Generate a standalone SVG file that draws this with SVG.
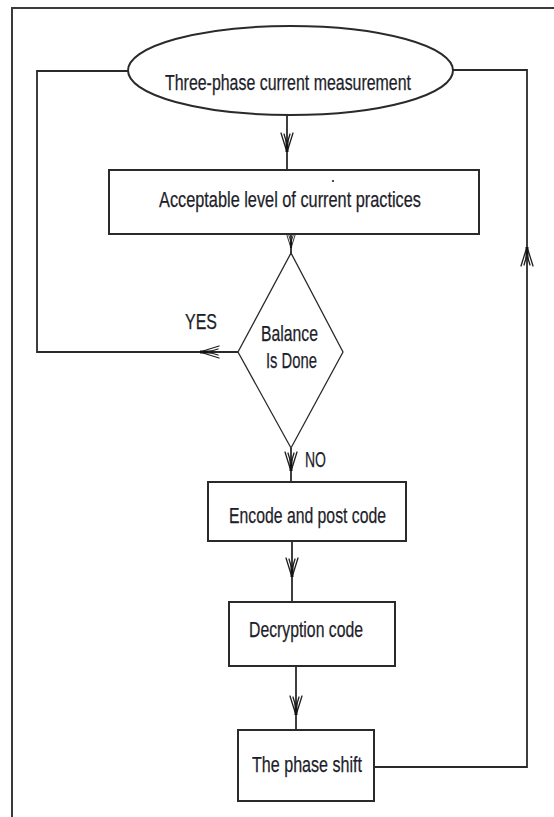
<svg xmlns="http://www.w3.org/2000/svg" xmlns:xlink="http://www.w3.org/1999/xlink" width="554" height="817" viewBox="0 0 554 817">
  <style>
    .frame { fill: none; stroke: #3a3a3a; stroke-width: 2; }
    .shape { fill: #ffffff; stroke: #2a2a2a; stroke-width: 2; }
    .thin  { fill: #ffffff; stroke: #2a2a2a; stroke-width: 1.3; }
    .wire  { fill: none; stroke: #2a2a2a; stroke-width: 1.8; }
    .head  { fill: none; stroke: #1e1e1e; stroke-width: 1.3; stroke-linecap: round; }
    .shaft { fill: none; stroke: #111111; stroke-width: 3; }
    text { font-family: "Liberation Sans", Arial, sans-serif; font-size: 21.5px; fill: #1d1d2a; stroke: #1d1d2a; stroke-width: 0.25; }
  </style>
  <defs>
    <!-- sketchy open arrowhead, pointing down, tip at the origin -->
    <g id="ah">
      <path class="shaft" d="M0,-12 L0,0"/>
      <path class="head" d="M-6,-19 L-1,-3 M6,-19 L1,-3 M-3,-18 L0,-8 M3,-18 L0,-8"/>
    </g>
  </defs>

  <rect width="554" height="817" fill="#ffffff"/>

  <!-- page frame (left and top edges) -->
  <path class="frame" d="M12,817 L12,8 L554,8"/>

  <!-- connectors -->
  <g id="connectors">
    <path class="wire" d="M287,115 L287,170"/>
    <path class="wire" d="M291,234 L291,253"/>
    <path class="wire" d="M291,448 L291,482"/>
    <path class="wire" d="M292,541 L292,602"/>
    <path class="wire" d="M296,666 L296,730"/>
    <!-- YES branch back to the measurement step -->
    <path class="wire" d="M238,352 L37,352 L37,71 L128,71"/>
    <!-- loop from the phase shift back to the measurement step -->
    <path class="wire" d="M374,767 L527,767 L527,70 L453,70"/>

    <use xlink:href="#ah" transform="translate(287,152)"/>
    <use xlink:href="#ah" transform="translate(291,248) scale(0.7)"/>
    <use xlink:href="#ah" transform="translate(291,471)"/>
    <use xlink:href="#ah" transform="translate(292,577)"/>
    <use xlink:href="#ah" transform="translate(296,715)"/>
    <use xlink:href="#ah" transform="translate(200,352) rotate(90)"/>
    <use xlink:href="#ah" transform="translate(527,247) rotate(180)"/>

    <text x="185" y="329" textLength="32" lengthAdjust="spacingAndGlyphs">YES</text>
    <text x="305" y="467" textLength="21" lengthAdjust="spacingAndGlyphs">NO</text>
  </g>

  <g id="measure">
    <ellipse class="shape" cx="290.5" cy="70.5" rx="162.5" ry="44.5"/>
    <text x="165" y="90" textLength="246" lengthAdjust="spacingAndGlyphs">Three-phase current measurement</text>
  </g>

  <g id="acceptable">
    <rect class="shape" x="109" y="170" width="370" height="64"/>
    <circle cx="333" cy="181" r="1.1" fill="#222222"/>
    <text x="159" y="207" textLength="262" lengthAdjust="spacingAndGlyphs">Acceptable level of current practices</text>
  </g>

  <g id="balance">
    <path class="thin" d="M291,253 L343,352 L291,448 L238,352 Z"/>
    <text x="261" y="341" textLength="57" lengthAdjust="spacingAndGlyphs">Balance</text>
    <text x="266" y="368" textLength="51" lengthAdjust="spacingAndGlyphs">Is Done</text>
  </g>

  <g id="encode">
    <rect class="shape" x="208" y="482" width="198" height="59"/>
    <text x="229" y="523" textLength="157" lengthAdjust="spacingAndGlyphs">Encode and post code</text>
  </g>

  <g id="decrypt">
    <rect class="shape" x="229" y="602" width="166" height="64"/>
    <text x="249" y="637" textLength="114" lengthAdjust="spacingAndGlyphs">Decryption code</text>
  </g>

  <g id="phase">
    <rect class="shape" x="238" y="730" width="136" height="71"/>
    <text x="252" y="772" textLength="110" lengthAdjust="spacingAndGlyphs">The phase shift</text>
  </g>
</svg>
